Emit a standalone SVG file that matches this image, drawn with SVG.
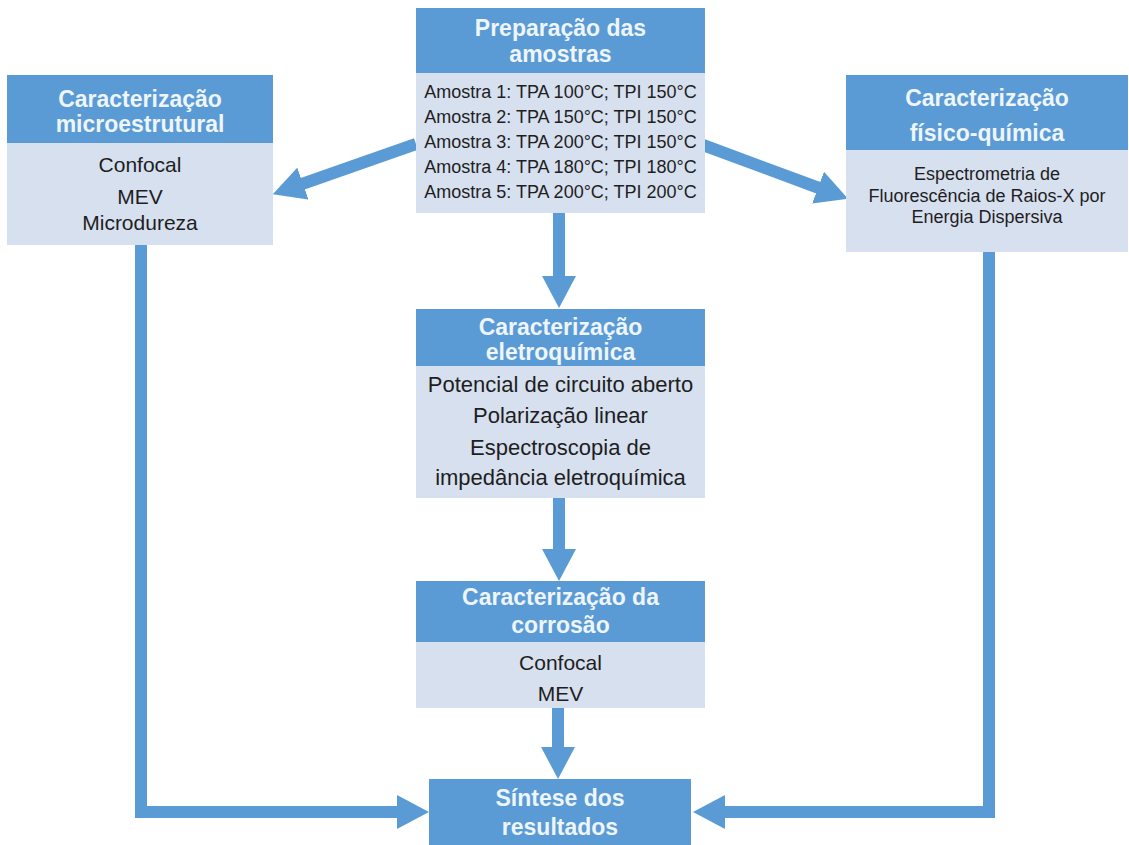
<svg xmlns="http://www.w3.org/2000/svg" width="1129" height="845" viewBox="0 0 1129 845">
<style>
.hd{fill:#5B9BD5}
.bd{fill:#D7E0EF}
.ht{font-family:"Liberation Sans",Arial,sans-serif;font-weight:bold;font-size:23px;fill:#EEF5FB;text-anchor:middle}
.bt{font-family:"Liberation Sans",Arial,sans-serif;fill:#1E1E1E;text-anchor:middle}
.s18{font-size:18px}
.s21{font-size:21px}
.s22{font-size:22px}
.ln{fill:none;stroke:#5B9BD5;stroke-width:12}
</style>
<defs>
<marker id="ah" markerUnits="userSpaceOnUse" markerWidth="32" markerHeight="34" viewBox="0 0 32 34" refX="1" refY="17" orient="auto">
<path d="M0,0 L32,17 L0,34 Z" fill="#5B9BD5"/>
</marker>
</defs>
<rect width="1129" height="845" fill="#FFFFFF"/>

<g id="connectors">
<line class="ln" x1="416" y1="144" x2="302" y2="184" marker-end="url(#ah)"/>
<line class="ln" x1="703" y1="145" x2="819" y2="188" marker-end="url(#ah)"/>
<line class="ln" x1="559" y1="213" x2="559" y2="277" marker-end="url(#ah)"/>
<line class="ln" x1="559" y1="498" x2="559" y2="550" marker-end="url(#ah)"/>
<line class="ln" x1="558" y1="708" x2="558" y2="748" marker-end="url(#ah)"/>
<polyline class="ln" points="141,245 141,812 398,812" marker-end="url(#ah)"/>
<polyline class="ln" points="989,252 989,812 724,812" marker-end="url(#ah)"/>
</g>

<g id="preparacao">
<rect class="hd" x="416" y="8" width="289" height="65"/>
<rect class="bd" x="416" y="73" width="289" height="140"/>
<text class="ht" x="560.5" y="36">Preparação das</text>
<text class="ht" x="560.5" y="62">amostras</text>
<text class="bt s18" x="560.5" y="98">Amostra 1: TPA 100°C; TPI 150°C</text>
<text class="bt s18" x="560.5" y="123">Amostra 2: TPA 150°C; TPI 150°C</text>
<text class="bt s18" x="560.5" y="148">Amostra 3: TPA 200°C; TPI 150°C</text>
<text class="bt s18" x="560.5" y="173">Amostra 4: TPA 180°C; TPI 180°C</text>
<text class="bt s18" x="560.5" y="198">Amostra 5: TPA 200°C; TPI 200°C</text>
</g>

<g id="microestrutural">
<rect class="hd" x="7" y="75" width="266" height="68"/>
<rect class="bd" x="7" y="143" width="266" height="102"/>
<text class="ht" x="140" y="107">Caracterização</text>
<text class="ht" x="140" y="132">microestrutural</text>
<text class="bt s21" x="140" y="172">Confocal</text>
<text class="bt s21" x="140" y="204">MEV</text>
<text class="bt s21" x="140" y="230">Microdureza</text>
</g>

<g id="fisicoquimica">
<rect class="hd" x="846" y="75" width="282" height="75"/>
<rect class="bd" x="846" y="150" width="282" height="102"/>
<text class="ht" x="987" y="106">Caracterização</text>
<text class="ht" x="987" y="141">físico-química</text>
<text class="bt s18" x="987" y="180">Espectrometria de</text>
<text class="bt s18" x="987" y="202">Fluorescência de Raios-X por</text>
<text class="bt s18" x="987" y="223">Energia Dispersiva</text>
</g>

<g id="eletroquimica">
<rect class="hd" x="416" y="309" width="289" height="57"/>
<rect class="bd" x="416" y="366" width="289" height="132"/>
<text class="ht" x="560.5" y="335">Caracterização</text>
<text class="ht" x="560.5" y="360">eletroquímica</text>
<text class="bt s22" x="560.5" y="392">Potencial de circuito aberto</text>
<text class="bt s22" x="560.5" y="423">Polarização linear</text>
<text class="bt s22" x="560.5" y="455">Espectroscopia de</text>
<text class="bt s22" x="560.5" y="485">impedância eletroquímica</text>
</g>

<g id="corrosao">
<rect class="hd" x="416" y="581" width="289" height="61"/>
<rect class="bd" x="416" y="642" width="289" height="66"/>
<text class="ht" x="560.5" y="605">Caracterização da</text>
<text class="ht" x="560.5" y="633">corrosão</text>
<text class="bt s21" x="560.5" y="670">Confocal</text>
<text class="bt s21" x="560.5" y="701">MEV</text>
</g>

<g id="sintese">
<rect class="hd" x="429" y="779" width="262" height="70"/>
<text class="ht" x="560" y="806">Síntese dos</text>
<text class="ht" x="560" y="835">resultados</text>
</g>
</svg>
